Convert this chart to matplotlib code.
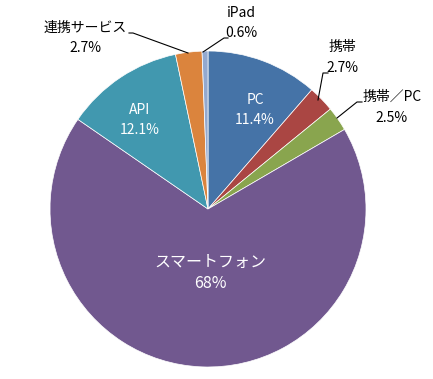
import matplotlib.pyplot as plt

# データ (12時の位置から時計回り)
labels = ['PC', '携帯', '携帯／PC', 'スマートフォン', 'API', '連携サービス', 'iPad']
shares = [11.4, 2.7, 2.5, 68.0, 12.1, 2.7, 0.6]
pct_text = ['11.4%', '2.7%', '2.5%', '68%', '12.1%', '2.7%', '0.6%']
colors = ['#4573A7', '#AA4643', '#89A54E', '#71588F', '#4198AF', '#DB843D', '#93A9CF']

plt.rcParams['font.family'] = ['Noto Sans CJK JP', 'DejaVu Sans']

fig = plt.figure(figsize=(4.33, 3.79), dpi=100)
ax = fig.add_axes([0, 0, 1, 1])

H = 379
cx, cy, r = 208, H - 209, 158

ax.pie(shares, colors=colors, startangle=90, counterclock=False,
       center=(cx, cy), radius=r,
       wedgeprops=dict(edgecolor='white', linewidth=0.5))

ax.set_xlim(0, 433)
ax.set_ylim(0, H)
ax.set_aspect('equal')
ax.axis('off')

# 内側のラベル
inside = {0: (255, 100, 120, 10), 4: (140, 110, 130, 10), 3: (210, 262, 284, 11.5)}
for i, (x, y1, y2, fs) in inside.items():
    ax.text(x, H - y1, labels[i], color='white', fontsize=fs, ha='center', va='center')
    ax.text(x, H - y2, pct_text[i], color='white', fontsize=fs, ha='center', va='center')

# 外側のラベルと引き出し線
outside = {
    6: ((241, 13, 33), [(203, 52), (224, 38), (228, 38)]),
    1: ((342, 47, 68), [(318, 100), (323, 73), (328, 73)]),
    2: ((392, 97, 118), [(337, 118), (357, 102), (362, 102)]),
    5: ((85, 28, 48), [(188, 53), (133, 33), (129, 33)]),
}
for i, ((x, y1, y2), pts) in outside.items():
    ax.text(x, H - y1, labels[i], color='black', fontsize=10, ha='center', va='center')
    ax.text(x, H - y2, pct_text[i], color='black', fontsize=10, ha='center', va='center')
    ax.plot([p[0] for p in pts], [H - p[1] for p in pts], color='black', linewidth=0.8)

plt.savefig('out.png', dpi=100)
